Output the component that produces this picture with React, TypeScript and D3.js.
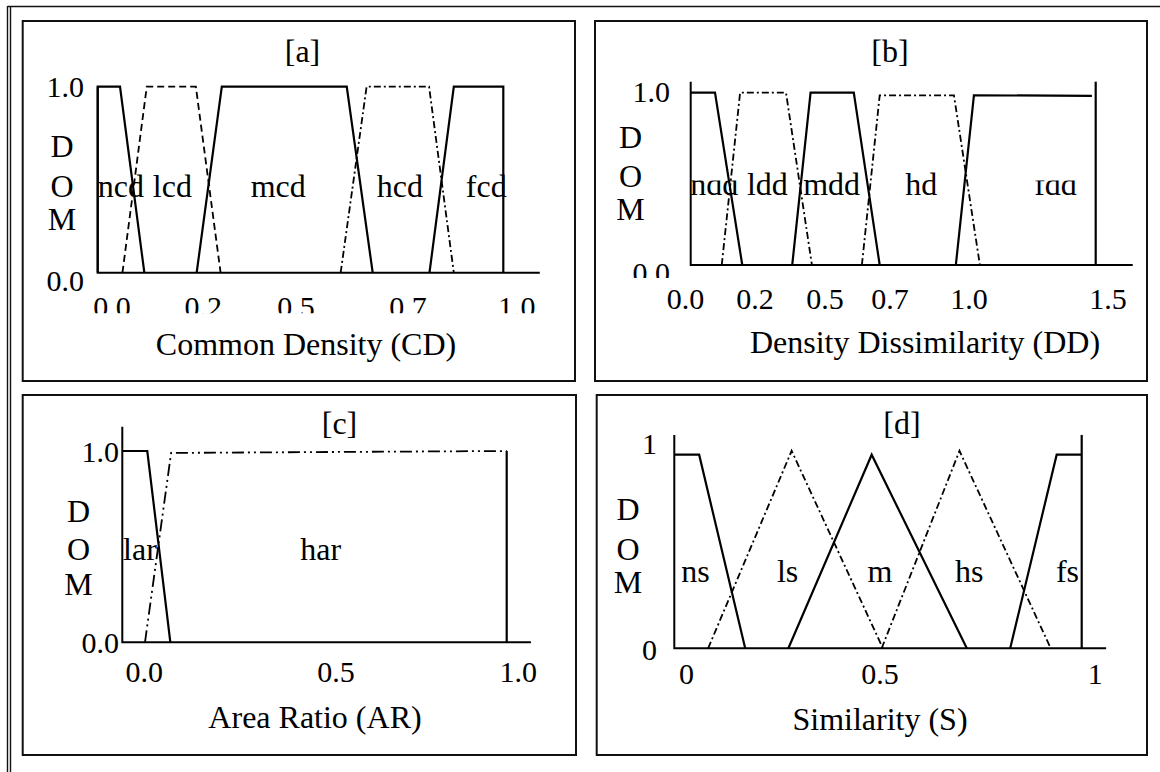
import React, { useRef, useEffect } from 'react';
import * as d3 from 'd3';

type Pt = [number, number];

// [a] Common Density (CD)
const cdNcd: Pt[] = [[0, 0], [0, 1], [0.055, 1], [0.115, 0]];
const cdLcd: Pt[] = [[0.061, 0], [0.121, 1], [0.242, 1], [0.303, 0]];
const cdMcd: Pt[] = [[0.244, 0], [0.306, 1], [0.614, 1], [0.678, 0]];
const cdHcd: Pt[] = [[0.599, 0], [0.663, 1], [0.817, 1], [0.878, 0]];
const cdFcd: Pt[] = [[0.818, 0], [0.878, 1], [1, 1], [1, 0]];
const cdNames = ['ncd', 'lcd', 'mcd', 'hcd', 'fcd'];
const cdNameX = [0.057, 0.184, 0.445, 0.745, 0.958];
const cdTickPos = [0.035, 0.26, 0.489, 0.765, 1.033];
const cdTickLabels = ['0.0', '0.2', '0.5', '0.7', '1.0'];
const cdYTickPos = [-0.04, 1.0];
const cdYTickLabels = ['0.0', '1.0'];

// [b] Density Dissimilarity (DD)
const ddNdd: Pt[] = [[0, 1], [0.09, 1], [0.191, 0]];
const ddLdd: Pt[] = [[0.115, 0], [0.183, 1], [0.353, 1], [0.449, 0]];
const ddMdd: Pt[] = [[0.376, 0], [0.444, 1], [0.604, 1], [0.7, 0]];
const ddHd: Pt[] = [[0.634, 0], [0.7, 0.985], [0.975, 0.985], [1.071, 0]];
const ddFdd: Pt[] = [[0.982, 0], [1.049, 0.985], [1.486, 0.982]];
const ddFddEdge: Pt[] = [[1.5, 0], [1.5, 1.064]];
const ddNames = ['ndd', 'ldd', 'mdd', 'hd', 'fdd'];
const ddNameX = [0.087, 0.284, 0.522, 0.854, 1.351];
const ddTickPos = [-0.019, 0.238, 0.497, 0.738, 1.031, 1.546];
const ddTickLabels = ['0.0', '0.2', '0.5', '0.7', '1.0', '1.5'];
const ddYTickPos = [-0.045, 1.006];
const ddYTickLabels = ['0.0', '1.0'];

// [c] Area Ratio (AR)
const arLar: Pt[] = [[0, 1], [0.065, 1], [0.125, 0]];
const arHar: Pt[] = [[0.059, 0], [0.127, 0.99], [1, 1]];
const arHarEdge: Pt[] = [[1, 1], [1, 0]];
const arNames = ['lar', 'har'];
const arNameX = [0.046, 0.516];
const arTickPos = [0.057, 0.556, 1.03];
const arTickLabels = ['0.0', '0.5', '1.0'];
const arYTickPos = [0, 1];
const arYTickLabels = ['0.0', '1.0'];

// [d] Similarity (S)
const sNs: Pt[] = [[0, 1], [0.061, 1], [0.174, 0]];
const sLs: Pt[] = [[0.083, 0], [0.288, 1.02], [0.512, 0]];
const sM: Pt[] = [[0.28, 0], [0.4845, 1], [0.718, 0]];
const sHs: Pt[] = [[0.509, 0], [0.7, 1.02], [0.924, 0]];
const sFs: Pt[] = [[0.8245, 0], [0.9386, 1], [1, 1]];
const sFsEdge: Pt[] = [[1, 0], [1, 1.102]];
const sNames = ['ns', 'ls', 'm', 'hs', 'fs'];
const sNameX = [0.052, 0.278, 0.505, 0.724, 0.965];
const sTickPos = [0.03, 0.505, 1.033];
const sTickLabels = ['0', '0.5', '1'];
const sYTickPos = [-0.006, 1.058];
const sYTickLabels = ['0', '1'];

const FONT = '"Liberation Serif", "Times New Roman", serif';
const DASH = '7,4';
const DASH_DOT = '7,3,2,3';
const DASH_DOT_DOT = '12,4,2,4,2,4';

const panels = [
    {
        title: '[a]', xTitle: 'Common Density (CD)',
        box: [22.7, 21, 575, 381], xDomain: [0, 1], xRange: [97.7, 503.3], yRange: [272.7, 86.7],
        yTop: 1, axisEnd: 1.09,
        series: [
            { pts: cdNcd, dash: null }, { pts: cdLcd, dash: DASH }, { pts: cdMcd, dash: null },
            { pts: cdHcd, dash: DASH_DOT }, { pts: cdFcd, dash: null }
        ],
        names: cdNames, nameX: cdNameX, nameY: 0.407, nameClip: null as number | null, clipped: [] as string[],
        ticks: cdTickPos, tickLabels: cdTickLabels, tickBase: 317, tickClip: 313.3 as number | null,
        yTicks: cdYTickPos, yTickLabels: cdYTickLabels, yLabelRight: 84, yLabelClip: null as number | null,
        domX: 62, domY: [157, 197, 230], titleX: 302.5, titleY: 62, xTitleX: 306, xTitleY: 355
    },
    {
        title: '[b]', xTitle: 'Density Dissimilarity (DD)',
        box: [595, 21, 1147, 381], xDomain: [0, 1.5], xRange: [690.7, 1095.7], yRange: [265, 92.7],
        yTop: 1.064, axisEnd: 1.637,
        series: [
            { pts: ddNdd, dash: null }, { pts: ddLdd, dash: DASH_DOT }, { pts: ddMdd, dash: null },
            { pts: ddHd, dash: DASH_DOT }, { pts: ddFdd, dash: null }, { pts: ddFddEdge, dash: null }
        ],
        names: ddNames, nameX: ddNameX, nameY: 0.406, nameClip: 180.5, clipped: ['ndd', 'fdd'],
        ticks: ddTickPos, tickLabels: ddTickLabels, tickBase: 309, tickClip: 311,
        yTicks: ddYTickPos, yTickLabels: ddYTickLabels, yLabelRight: 670, yLabelClip: 278,
        domX: 630.5, domY: [148, 187, 220], titleX: 890, titleY: 62, xTitleX: 925, xTitleY: 353
    },
    {
        title: '[c]', xTitle: 'Area Ratio (AR)',
        box: [22.7, 395, 576, 755], xDomain: [0, 1], xRange: [122.3, 506.7], yRange: [642.3, 451],
        yTop: 1.127, axisEnd: 1.063,
        series: [
            { pts: arLar, dash: null }, { pts: arHar, dash: DASH_DOT_DOT }, { pts: arHarEdge, dash: null }
        ],
        names: arNames, nameX: arNameX, nameY: 0.43, nameClip: null, clipped: [],
        ticks: arTickPos, tickLabels: arTickLabels, tickBase: 682, tickClip: null,
        yTicks: arYTickPos, yTickLabels: arYTickLabels, yLabelRight: 119, yLabelClip: null,
        domX: 78.6, domY: [522, 560, 595], titleX: 339.5, titleY: 434, xTitleX: 315, xTitleY: 728
    },
    {
        title: '[d]', xTitle: 'Similarity (S)',
        box: [596.7, 395, 1147, 755], xDomain: [0, 1], xRange: [674.3, 1081.7], yRange: [648.3, 454.7],
        yTop: 1.102, axisEnd: 1.06,
        series: [
            { pts: sNs, dash: null }, { pts: sLs, dash: DASH_DOT }, { pts: sM, dash: null },
            { pts: sHs, dash: DASH_DOT }, { pts: sFs, dash: null }, { pts: sFsEdge, dash: null }
        ],
        names: sNames, nameX: sNameX, nameY: 0.342, nameClip: null, clipped: [],
        ticks: sTickPos, tickLabels: sTickLabels, tickBase: 684, tickClip: null,
        yTicks: sYTickPos, yTickLabels: sYTickLabels, yLabelRight: 657, yLabelClip: null,
        domX: 628, domY: [520, 560, 593], titleX: 902, titleY: 434, xTitleX: 880, xTitleY: 730
    }
];

const App = () => {
    const ref = useRef<SVGSVGElement>(null);

    useEffect(() => {
        if (!ref.current) return;
        const svg = d3.select(ref.current);
        svg.selectAll('*').remove();
        const defs = svg.append('defs');

        // outer frame (top line + double left line)
        svg.append('line').attr('x1', 7.5).attr('x2', 1160).attr('y1', 6.5).attr('y2', 6.5)
            .attr('stroke', '#111').attr('stroke-width', 1.6);
        [7.5, 10.5].forEach(xx => {
            svg.append('line').attr('x1', xx).attr('x2', xx).attr('y1', 6).attr('y2', 772)
                .attr('stroke', '#111').attr('stroke-width', 1.4);
        });

        panels.forEach((p, i) => {
            const g = svg.append('g').style('font-family', FONT).style('font-size', '32px');
            const x = d3.scaleLinear().domain(p.xDomain).range(p.xRange);
            const y = d3.scaleLinear().domain([0, 1]).range(p.yRange);
            const line = d3.line<Pt>().x(d => x(d[0])).y(d => y(d[1]));

            g.append('rect')
                .attr('x', p.box[0]).attr('y', p.box[1])
                .attr('width', p.box[2] - p.box[0]).attr('height', p.box[3] - p.box[1])
                .attr('fill', 'none').attr('stroke', '#111').attr('stroke-width', 2);

            // axes
            g.append('path')
                .attr('d', line([[0, p.yTop], [0, 0], [p.axisEnd, 0]]))
                .attr('fill', 'none').attr('stroke', '#000').attr('stroke-width', 2);

            // membership functions
            p.series.forEach(s => {
                g.append('path')
                    .attr('d', line(s.pts))
                    .attr('fill', 'none')
                    .attr('stroke', '#000')
                    .attr('stroke-width', s.dash ? 1.8 : 2.2)
                    .attr('stroke-dasharray', s.dash);
            });

            // term names
            let nameClipId: string | null = null;
            if (p.nameClip !== null) {
                nameClipId = `nameclip${i}`;
                defs.append('clipPath').attr('id', nameClipId).append('rect')
                    .attr('x', p.box[0]).attr('y', p.nameClip).attr('width', p.box[2] - p.box[0]).attr('height', 200);
            }
            p.names.forEach((n, k) => {
                g.append('text')
                    .attr('x', x(p.nameX[k])).attr('y', y(p.nameY))
                    .attr('text-anchor', 'middle')
                    .attr('clip-path', nameClipId && p.clipped.includes(n) ? `url(#${nameClipId})` : null)
                    .text(n);
            });

            // x tick labels
            let tickClipId: string | null = null;
            if (p.tickClip !== null) {
                tickClipId = `tickclip${i}`;
                defs.append('clipPath').attr('id', tickClipId).append('rect')
                    .attr('x', p.box[0]).attr('y', p.tickClip - 60).attr('width', p.box[2] - p.box[0]).attr('height', 60);
            }
            const tg = g.append('g').style('font-size', '30px')
                .attr('clip-path', tickClipId ? `url(#${tickClipId})` : null);
            p.ticks.forEach((t, k) => {
                tg.append('text')
                    .attr('x', x(t)).attr('y', p.tickBase)
                    .attr('text-anchor', 'middle')
                    .text(p.tickLabels[k]);
            });

            // y tick labels
            let yClipId: string | null = null;
            if (p.yLabelClip !== null) {
                yClipId = `yclip${i}`;
                defs.append('clipPath').attr('id', yClipId).append('rect')
                    .attr('x', p.box[0]).attr('y', p.box[1]).attr('width', 200).attr('height', p.yLabelClip - p.box[1]);
            }
            const yg = g.append('g').style('font-size', '30px')
                .attr('clip-path', yClipId ? `url(#${yClipId})` : null);
            p.yTicks.forEach((t, k) => {
                yg.append('text')
                    .attr('x', p.yLabelRight).attr('y', y(t))
                    .attr('dy', '0.35em')
                    .attr('text-anchor', 'end')
                    .text(p.yTickLabels[k]);
            });

            // DOM stacked label
            ['D', 'O', 'M'].forEach((c, k) => {
                g.append('text').attr('x', p.domX).attr('y', p.domY[k])
                    .attr('text-anchor', 'middle').text(c);
            });

            g.append('text').attr('x', p.titleX).attr('y', p.titleY)
                .attr('text-anchor', 'middle').text(p.title);
            g.append('text').attr('x', p.xTitleX).attr('y', p.xTitleY)
                .attr('text-anchor', 'middle').text(p.xTitle);
        });
    }, []);

    return (
        <svg ref={ref} width={1160} height={772}
            style={{ position: 'absolute', left: 0, top: 0, background: '#fff' }} />
    );
};

export default App;
